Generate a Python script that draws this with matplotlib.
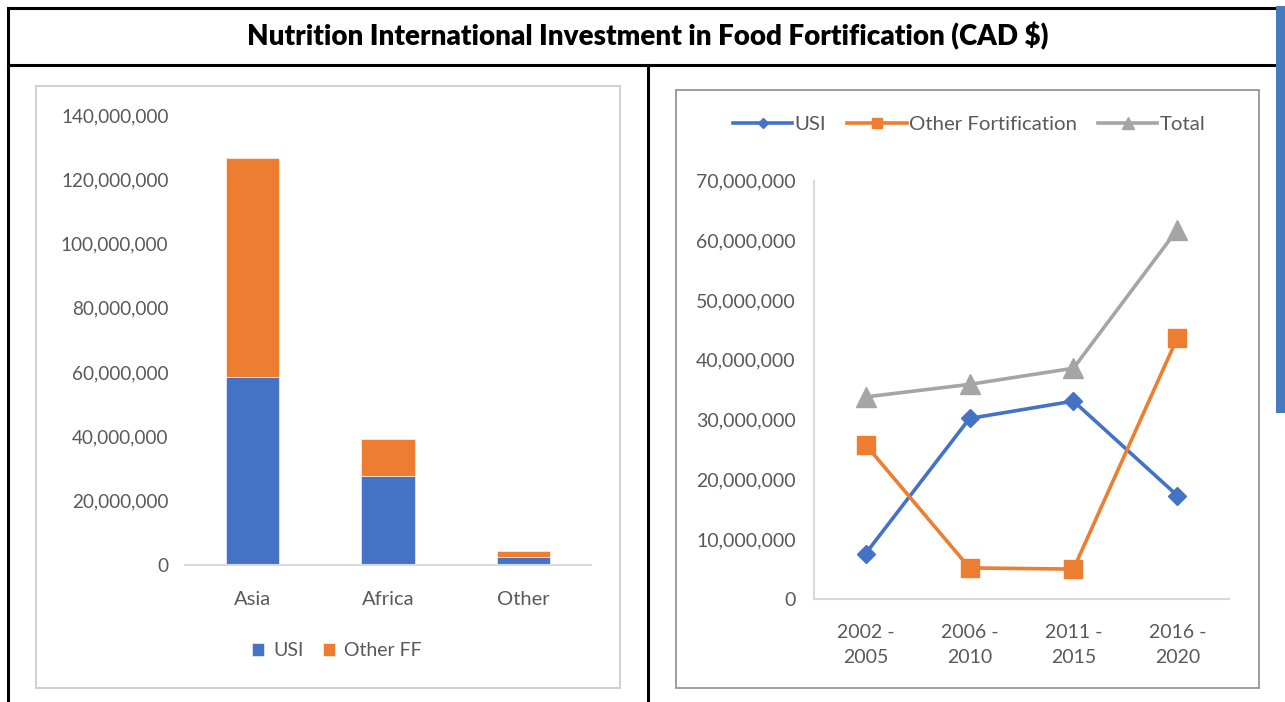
import matplotlib
matplotlib.use("Agg")
import matplotlib.pyplot as plt
from matplotlib.lines import Line2D
from matplotlib.patches import Rectangle
from matplotlib.ticker import FuncFormatter

# ---------------- data ----------------
regions = ["Asia", "Africa", "Other"]
usi_region = [58_400_000, 27_700_000, 2_600_000]
other_ff_region = [68_100_000, 11_400_000, 1_850_000]

periods = ["2002 -\n2005", "2006 -\n2010", "2011 -\n2015", "2016 -\n2020"]
usi_period = [7_600_000, 30_200_000, 33_100_000, 17_300_000]
other_period = [25_800_000, 5_200_000, 5_000_000, 43_700_000]
total_period = [33_800_000, 35_900_000, 38_600_000, 61_800_000]

left_yticks = [0, 20_000_000, 40_000_000, 60_000_000, 80_000_000, 100_000_000, 120_000_000, 140_000_000]
right_yticks = [0, 10_000_000, 20_000_000, 30_000_000, 40_000_000, 50_000_000, 60_000_000, 70_000_000]

title = "Nutrition International Investment in Food Fortification (CAD $)"

# ---------------- style ----------------
BLUE = "#4472C4"
ORANGE = "#ED7D31"
GRAY = "#A5A5A5"
TXT = "#595959"
AXLINE = "#D9D9D9"
FONT = "Lato"
WT = "normal"

W, H = 1285, 702
fig = plt.figure(figsize=(W / 100, H / 100), dpi=100)
fig.patch.set_facecolor("white")


def rect(x0, y0, x1, y1):
    return [x0 / W, 1 - y1 / H, (x1 - x0) / W, (y1 - y0) / H]


def fx(x):
    return x / W


def fy(y):
    return 1 - y / H


fmt = FuncFormatter(lambda v, p: f"{v:,.0f}")

# ---------------- table frame ----------------
lw_tab = 2.2
for (x0, y0, x1, y1) in [(8, 8, 1276, 8), (8, 65, 1276, 65), (8, 8, 8, 702), (648, 65, 648, 702)]:
    fig.add_artist(Line2D([fx(x0), fx(x1)], [fy(y0), fy(y1)], color="black", lw=lw_tab,
                          solid_capstyle="projecting", zorder=-2))
fig.add_artist(Rectangle((fx(1276), fy(413)), fx(1285) - fx(1276), fy(6) - fy(413),
                         transform=fig.transFigure, color="#4679BD", lw=0, zorder=-2))

fig.text(fx(648), fy(36), title, ha="center", va="center", fontsize=20.0,
         fontweight="heavy", family=FONT, color="black")

# chart boxes (behind axes)
fig.add_artist(Rectangle((fx(36), fy(688)), fx(620) - fx(36), fy(86) - fy(688),
                         transform=fig.transFigure, facecolor="white", edgecolor="#C8C8C8", lw=1.2,
                         zorder=-1))
fig.add_artist(Rectangle((fx(676), fy(688)), fx(1259) - fx(676), fy(90) - fy(688),
                         transform=fig.transFigure, facecolor="white", edgecolor="#8C8C8C", lw=1.2,
                         zorder=-1))

# ---------------- left chart: stacked bars ----------------
ax1 = fig.add_axes(rect(185, 115, 591, 565))
ax1.set_facecolor("none")
xs = range(len(regions))
ax1.bar(xs, usi_region, width=0.395, color=BLUE, label="USI", edgecolor="white", lw=0.4)
ax1.bar(xs, other_ff_region, width=0.395, bottom=usi_region, color=ORANGE, label="Other FF",
        edgecolor="white", lw=0.4)
ax1.set_xlim(-0.5, 2.5)
ax1.set_ylim(0, 140_000_000)
ax1.set_yticks(left_yticks)
ax1.yaxis.set_major_formatter(fmt)
ax1.set_xticks(list(xs))
ax1.set_xticklabels(regions)
for s in ["top", "right", "left"]:
    ax1.spines[s].set_visible(False)
ax1.spines["bottom"].set_color(AXLINE)
ax1.spines["bottom"].set_linewidth(1.5)
ax1.tick_params(axis="both", length=0, labelcolor=TXT)
ax1.tick_params(axis="y", pad=12, labelsize=13.6)
ax1.tick_params(axis="x", pad=18.5, labelsize=14.5)
for t in ax1.get_xticklabels() + ax1.get_yticklabels():
    t.set_family(FONT)
    t.set_fontweight(WT)
leg1 = ax1.legend(loc="center", bbox_to_anchor=(fx(337), fy(651)), bbox_transform=fig.transFigure,
                  ncol=2, frameon=False, handlelength=0.6, handleheight=0.6, handletextpad=0.5,
                  columnspacing=1.0, prop={"family": FONT, "size": 14.0, "weight": WT})
for t in leg1.get_texts():
    t.set_color(TXT)

# ---------------- right chart: lines ----------------
ax2 = fig.add_axes(rect(813.7, 180.5, 1229.3, 599))
ax2.set_facecolor("none")
xp = range(len(periods))
ax2.plot(xp, usi_period, color=BLUE, lw=2.6, marker="D", ms=9, label="USI")
ax2.plot(xp, other_period, color=ORANGE, lw=2.6, marker="s", ms=13, label="Other Fortification")
ax2.plot(xp, total_period, color=GRAY, lw=2.6, marker="^", ms=14, label="Total")
ax2.set_xlim(-0.5, 3.5)
ax2.set_ylim(0, 70_000_000)
ax2.set_yticks(right_yticks)
ax2.yaxis.set_major_formatter(fmt)
ax2.set_xticks(list(xp))
ax2.set_xticklabels(periods, linespacing=1.55)
for s in ["top", "right"]:
    ax2.spines[s].set_visible(False)
for s in ["bottom", "left"]:
    ax2.spines[s].set_color(AXLINE)
    ax2.spines[s].set_linewidth(1.5)
ax2.tick_params(axis="both", length=0, labelcolor=TXT)
ax2.tick_params(axis="y", pad=13, labelsize=14)
ax2.tick_params(axis="x", pad=18, labelsize=14)
for t in ax2.get_xticklabels() + ax2.get_yticklabels():
    t.set_family(FONT)
    t.set_fontweight(WT)
leg2 = ax2.legend(loc="center", bbox_to_anchor=(fx(969), fy(124)), bbox_transform=fig.transFigure,
                  ncol=3, frameon=False, handlelength=2.9, handletextpad=0.1, columnspacing=1.05,
                  prop={"family": FONT, "size": 14.7, "weight": WT}, markerscale=0.6)
for t in leg2.get_texts():
    t.set_color(TXT)

fig.savefig("out.png", dpi=100, facecolor="white")
